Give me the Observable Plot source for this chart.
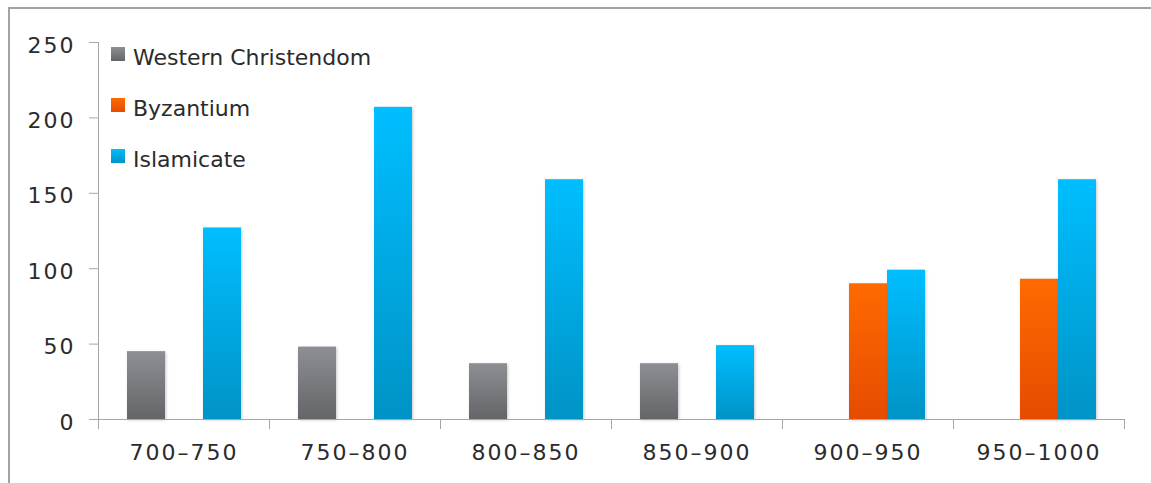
<!DOCTYPE html>
<html>
<head>
<meta charset="utf-8">
<script src="https://cdn.jsdelivr.net/npm/d3@7"></script>
<script src="https://cdn.jsdelivr.net/npm/@observablehq/plot@0.6"></script>
<style>
  html, body { margin: 0; padding: 0; background: #fff; overflow: hidden; }
  #wrap { position: relative; width: 1151px; height: 483px; }
  #border { position: absolute; left: 8px; top: 7px; width: 2000px; height: 2000px;
            border-top: 2px solid #a3a3a3; border-left: 2px solid #a3a3a3; pointer-events: none; }
  #chart svg text { fill: #2b2b2b; letter-spacing: 2px; }
  #chart svg g[aria-label="bar"] rect { filter: drop-shadow(1px 1px 1.5px rgba(0,0,0,0.22)); }
  #legend { position: absolute; left: 111px; top: 0; font-family: "DejaVu Sans", sans-serif; font-size: 22px; color: #2b2b2b; }
  .item { position: absolute; left: 0; white-space: nowrap; line-height: 22px; }
  .sw { position: absolute; left: 0; top: 0; width: 14px; height: 14px; }
  .lab { position: absolute; left: 22px; top: 0; }
</style>
</head>
<body>
<div id="wrap">
  <div id="chart"></div>
  <div id="legend"></div>
  <div id="border"></div>
</div>
<script>
const categories = ["700–750", "750–800", "800–850", "850–900", "900–950", "950–1000"];
const series = ["Western Christendom", "Byzantium", "Islamicate"];
const westernChristendom = [45, 48, 37, 37, null, null];
const byzantium = [null, null, null, null, 90, 93];
const islamicate = [127, 207, 159, 49, 99, 159];
const yTicks = [0, 50, 100, 150, 200, 250];
const gradTop = ["#8c8f93", "#ff6a00", "#00beff"];
const gradBottom = ["#646569", "#e54c00", "#0093c6"];

const valuesBySeries = [westernChristendom, byzantium, islamicate];
const data = [];
categories.forEach((cat, i) => {
  series.forEach((s, j) => {
    const v = valuesBySeries[j][i];
    if (v != null) data.push({cat, series: s, value: v});
  });
});

const W = 1151, H = 483;
const mt = 42, mb = 64, ml = 97, mr = 27;
const gradIds = series.map((s, j) => "grad" + j);

const svg = Plot.plot({
  width: W,
  height: H,
  marginTop: mt,
  marginBottom: mb,
  marginLeft: ml,
  marginRight: mr,
  style: {fontFamily: "DejaVu Sans, sans-serif", fontSize: "22px", color: "#a6a6a6", background: "transparent"},
  fx: {domain: categories, padding: 0, axis: "bottom", tickSize: 0, tickPadding: 25, label: null},
  x: {domain: series, paddingInner: 0, paddingOuter: 0.75, axis: null},
  y: {domain: [0, 250], ticks: yTicks, tickSize: 9, tickPadding: 14, line: true, label: null},
  color: {domain: series, range: gradIds.map(id => `url(#${id})`)},
  marks: [
    Plot.barY(data, {fx: "cat", x: "series", y: "value", fill: "series"}),
    Plot.ruleY([0], {stroke: "#a6a6a6"}),
    Plot.frame({anchor: "left", stroke: "#a6a6a6", insetTop: H - mt - mb, insetBottom: -9}),
    Plot.frame({anchor: "right", stroke: "#a6a6a6", insetTop: H - mt - mb, insetBottom: -9})
  ]
});

const defs = d3.select(svg).append("defs");
gradIds.forEach((id, j) => {
  const g = defs.append("linearGradient").attr("id", id).attr("x1", 0).attr("y1", 0).attr("x2", 0).attr("y2", 1);
  g.append("stop").attr("offset", "0%").attr("stop-color", gradTop[j]);
  g.append("stop").attr("offset", "100%").attr("stop-color", gradBottom[j]);
});
d3.select(svg).selectAll('g[aria-label="y-axis tick label"]').each(function() {
  const t = this.getAttribute("transform") || "";
  this.setAttribute("transform", (t + " translate(0,3)").trim());
});

document.getElementById("chart").appendChild(svg);

const legend = d3.select("#legend");
series.forEach((s, j) => {
  const item = legend.append("div").attr("class", "item").style("top", (47 + j * 51) + "px");
  item.append("div").attr("class", "sw")
    .style("background", `linear-gradient(${gradTop[j]}, ${gradBottom[j]})`);
  item.append("div").attr("class", "lab").text(s);
});
</script>
</body>
</html>
